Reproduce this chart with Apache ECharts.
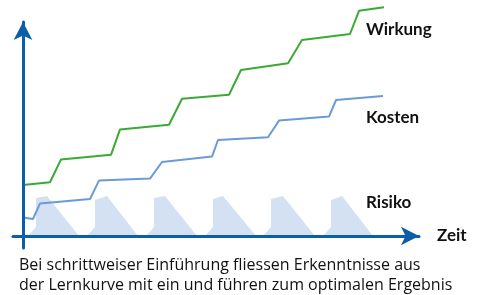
<!DOCTYPE html>
<html><head><meta charset="utf-8">
<script src="https://cdn.jsdelivr.net/npm/echarts@6/dist/echarts.min.js"></script>
<style>html,body{margin:0;padding:0;background:#fff}#c{width:477px;height:295px}</style>
</head><body><div id="c"></div>
<script>
// Time (x) and level (y) in arbitrary units
const wirkungX = [0, 6.75, 9.5, 22, 24.25, 36.5, 39.75, 51.5, 54.5, 66.25, 69.75, 81.75, 84, 90.25];
const wirkungY = [25.5, 26.9, 38.3, 40.6, 53.3, 55.6, 68.6, 70.6, 83, 86.4, 98, 101, 112.6, 114.4];
const kostenX = [0, 2.5, 4.25, 16.75, 19, 31.75, 34.75, 47.25, 48.75, 61.25, 64, 76.5, 78.25, 90];
const kostenY = [9.2, 8.5, 16.3, 18.5, 27.7, 28.7, 37, 39.7, 48, 49.4, 57.7, 59.7, 68, 70];
const risikoX = [1.25, 3.25, 3.25, 6, 14,
                 16, 18, 18, 21, 28.75,
                 30.75, 32.75, 32.75, 35.5, 43.5,
                 45.5, 47.5, 47.5, 50, 58.25,
                 60, 62, 62, 65, 73,
                 75, 77, 77, 79.75, 87.5];
const risikoY = [0, 4.5, 19, 20, 0,
                 0, 4.5, 18, 20, 0,
                 0, 4.5, 19, 20, 0,
                 0, 4.5, 18.5, 20, 0,
                 0, 4.5, 18.5, 20, 0,
                 0, 4.5, 18, 20, 0];
const seriesNames = ['Wirkung', 'Kosten', 'Risiko'];
const axisName = 'Zeit';
const caption = ['Bei schrittweiser Einführung fliessen Erkenntnisse aus',
                 'der Lernkurve mit ein und führen zum optimalen Ergebnis'];

const zip = (a, b) => a.map((v, i) => [v, b[i]]);
const AX = '#0b5ea8';
const chart = echarts.init(document.getElementById('c'), null, {renderer: 'canvas'});
chart.setOption({
  animation: false,
  grid: {left: 13, top: 22, width: 406, height: 226},
  xAxis: {
    type: 'value', min: -2.5, max: 99, z: 5,
    axisLine: {lineStyle: {color: AX, width: 3}, symbol: ['none', 'arrow'], symbolSize: [14, 18]},
    axisTick: {show: false}, axisLabel: {show: false}, splitLine: {show: false},
    name: axisName, nameLocation: 'end', nameGap: 18,
    nameTextStyle: {fontFamily: 'Lato', fontWeight: 'bold', fontSize: 17, color: '#111', verticalAlign: 'middle'}
  },
  yAxis: {
    type: 'value', min: -6, max: 107, z: 5,
    axisLine: {lineStyle: {color: AX, width: 3}, symbol: ['none', 'arrow'], symbolSize: [14, 18]},
    axisTick: {show: false}, axisLabel: {show: false}, splitLine: {show: false}
  },
  series: [
    {name: seriesNames[2], type: 'line', data: zip(risikoX, risikoY), symbol: 'none', clip: false,
     lineStyle: {width: 0, opacity: 0}, areaStyle: {color: '#d3e1f3', opacity: 1}, z: 1},
    {name: seriesNames[1], type: 'line', data: zip(kostenX, kostenY), symbol: 'none', clip: false,
     lineStyle: {color: '#6a9bd8', width: 2}, z: 3},
    {name: seriesNames[0], type: 'line', data: zip(wirkungX, wirkungY), symbol: 'none', clip: false,
     lineStyle: {color: '#3aaa35', width: 2}, z: 3}
  ],
  graphic: [
    {type: 'text', left: 366, top: 21, style: {text: seriesNames[0], font: 'bold 17px Lato', fill: '#111'}},
    {type: 'text', left: 366, top: 109, style: {text: seriesNames[1], font: 'bold 17px Lato', fill: '#111'}},
    {type: 'text', left: 366, top: 194, style: {text: seriesNames[2], font: 'bold 17px Lato', fill: '#111'}},
    {type: 'text', left: 19, top: 255, style: {text: caption.join('\n'), font: '16px "Open Sans"', lineHeight: 20, fill: '#111'}}
  ]
});
</script></body></html>
